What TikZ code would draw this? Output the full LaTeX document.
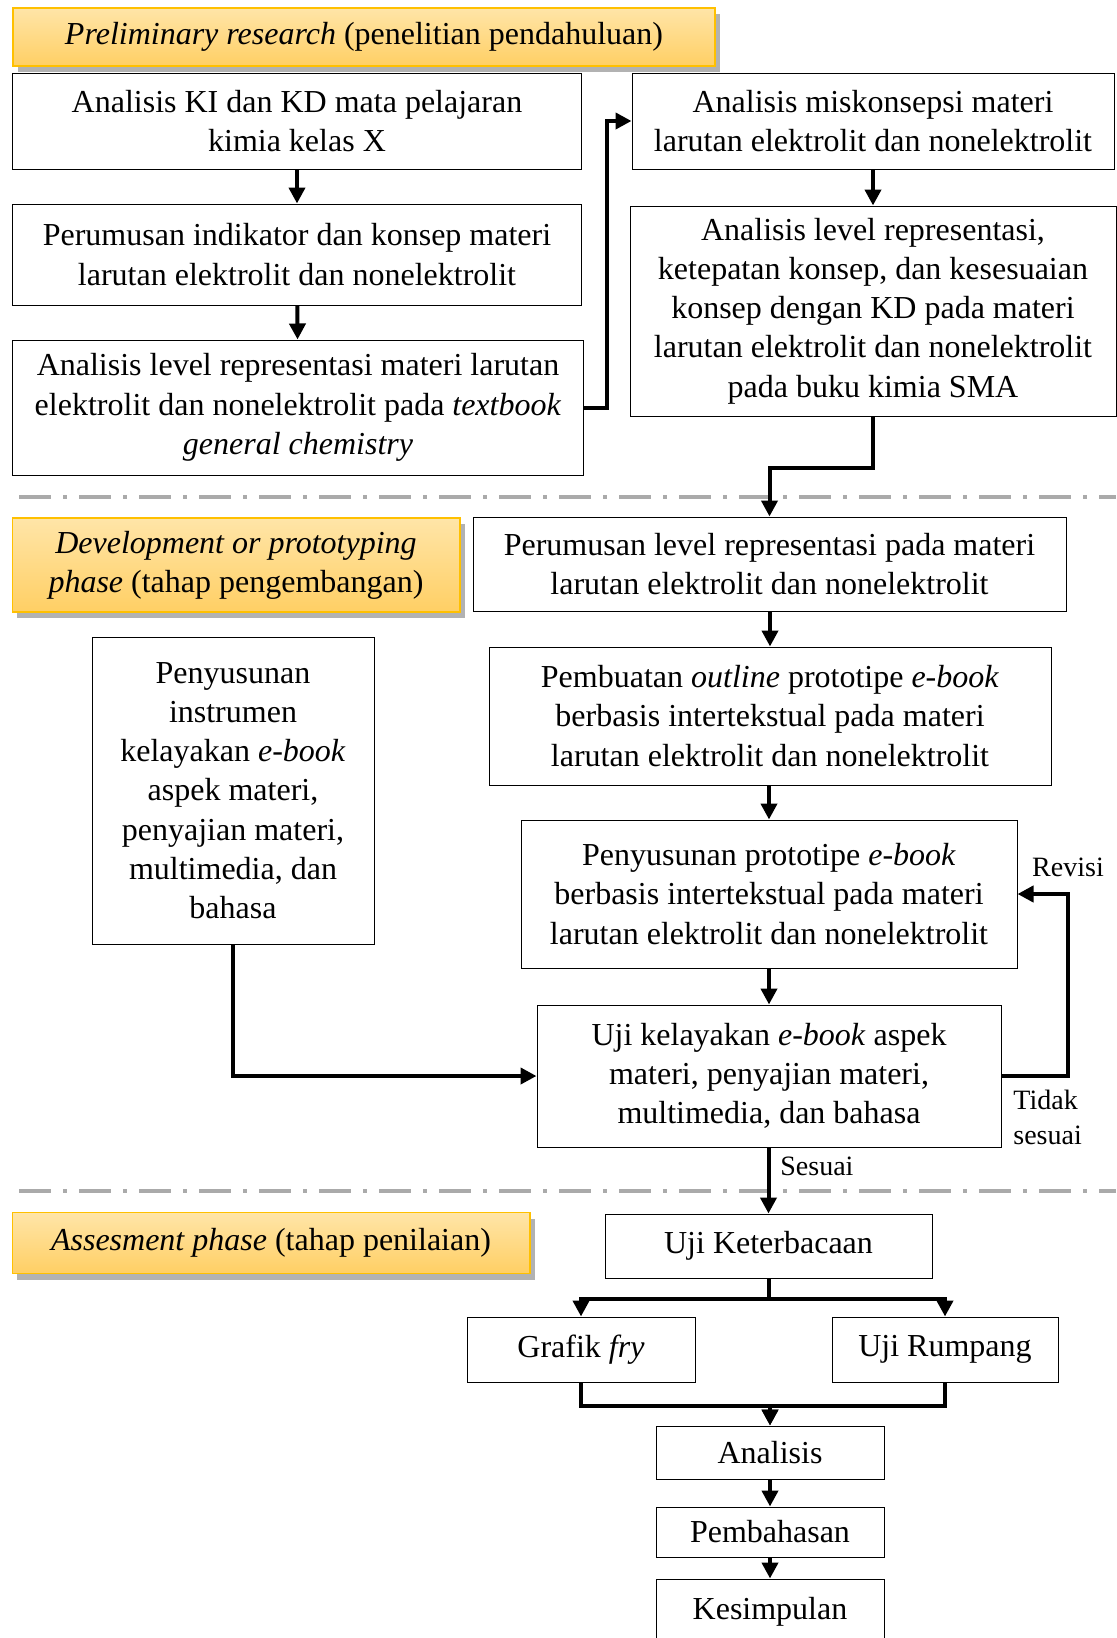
\documentclass[tikz,border=0pt]{standalone}
\usepackage{fontspec}
\setmainfont{Liberation Serif}
\usetikzlibrary{arrows.meta,shadows}
\definecolor{fasetop}{RGB}{255,229,168}
\definecolor{fasebot}{RGB}{255,207,100}
\definecolor{fasegaris}{RGB}{255,192,0}
\definecolor{garisabu}{RGB}{170,170,170}

\begin{document}
\begin{tikzpicture}[x=0.5pt,y=-0.5pt,
  blok/.style={draw, line width=0.5pt, align=center, inner sep=0pt,
    font=\fontsize{16pt}{19.6pt}\selectfont},
  fase/.style={draw=fasegaris, line width=0.7pt, top color=fasetop, bottom color=fasebot,
    drop shadow={shadow xshift=2.5pt, shadow yshift=-3pt, fill=black, opacity=0.3},
    align=center, inner sep=0pt, font=\fontsize{16pt}{19.6pt}\selectfont},
  panah/.style={line width=2pt, -{Triangle[length=8pt,width=8pt]}},
  pemisah/.style={garisabu, line width=2pt, dash pattern=on 16pt off 6pt on 2pt off 6pt},
  ket/.style={inner sep=0pt, align=left, font=\fontsize{14pt}{17.5pt}\selectfont}]

  \useasboundingbox (0,0) rectangle (1117,1638);

  % preliminary research
  \node[fase, minimum width=351pt, minimum height=29pt] (f1) at (364,37)
    {\textit{Preliminary research} (penelitian pendahuluan)};
  \node[blok, minimum width=284.8pt, minimum height=48pt] (a1) at (297,121)
    {Analisis KI dan KD mata pelajaran\\kimia kelas X};
  \node[blok, minimum width=284.8pt, minimum height=50.5pt] (a2) at (297,254.5)
    {Perumusan indikator dan konsep materi\\larutan elektrolit dan nonelektrolit};
  \node[blok, minimum width=285.2pt, minimum height=67.5pt] (a3) at (298,407.5)
    {Analisis level representasi materi larutan\\elektrolit dan nonelektrolit pada \textit{textbook}\\\textit{general chemistry}};
  \node[blok, minimum width=241pt, minimum height=48pt] (b1) at (873,121)
    {Analisis miskonsepsi materi\\larutan elektrolit dan nonelektrolit};
  \node[blok, minimum width=243pt, minimum height=105pt] (b2) at (873,311)
    {Analisis level representasi,\\ketepatan konsep, dan kesesuaian\\konsep dengan KD pada materi\\larutan elektrolit dan nonelektrolit\\pada buku kimia SMA};

  \draw[panah] (a1) -- (a2);
  \draw[panah] (a2) -- (a3);
  \draw[panah] (a3.east) -- ++(23,0) |- (b1.west);
  \draw[panah] (b1) -- (b2);

  \draw[pemisah] (19,497) -- (1116,497);

  % development or prototyping phase
  \node[fase, minimum width=223.8pt, minimum height=47pt] (f2) at (236,565)
    {\textit{Development or prototyping}\\\textit{phase} (tahap pengembangan)};
  \node[blok, minimum width=296.5pt, minimum height=47pt] (c1) at (769.5,564)
    {Perumusan level representasi pada materi\\larutan elektrolit dan nonelektrolit};
  \node[blok, minimum width=281pt, minimum height=69pt] (c2) at (770,716)
    {Pembuatan \textit{outline} prototipe \textit{e-book}\\berbasis intertekstual pada materi\\larutan elektrolit dan nonelektrolit};
  \node[blok, minimum width=248pt, minimum height=74pt] (c3) at (769,894)
    {Penyusunan prototipe \textit{e-book}\\berbasis intertekstual pada materi\\larutan elektrolit dan nonelektrolit};
  \node[blok, minimum width=232pt, minimum height=71pt] (c4) at (769,1076)
    {Uji kelayakan \textit{e-book} aspek\\materi, penyajian materi,\\multimedia, dan bahasa};
  \node[blok, minimum width=141pt, minimum height=153.5pt] (d) at (233,790.5)
    {Penyusunan\\instrumen\\kelayakan \textit{e-book}\\aspek materi,\\penyajian materi,\\multimedia, dan\\bahasa};

  \draw[panah] (b2.south) -- ++(0,51) -| (c1.north);
  \draw[panah] (c1.south -| c2.north) -- (c2.north);
  \draw[panah] (c2.south -| c3.north) -- (c3.north);
  \draw[panah] (c3) -- (c4);
  \draw[panah] (d.south) |- (c4.west);
  \draw[panah] (c4.east) -- ++(66,0) |- (c3.east);
  \node[ket] (revisi) at (1068,867) {Revisi};
  \node[ket, anchor=west] (tidak) at (1013,1117) {Tidak\\sesuai};

  \draw[pemisah] (19,1191) -- (1116,1191);

  % assesment phase
  \node[fase, minimum width=258.8pt, minimum height=30.5pt] (f3) at (271,1243)
    {\textit{Assesment phase} (tahap penilaian)};
  \node[blok, minimum width=163.5pt, minimum height=32pt] (e) at (768.5,1246) {Uji Keterbacaan};
  \node[blok, minimum width=114pt, minimum height=32.5pt] (g1) at (581,1349.5) {Grafik \textit{fry}};
  \node[blok, minimum width=113pt, minimum height=32.5pt] (g2) at (945,1349.5) {Uji Rumpang};
  \node[blok, minimum width=114pt, minimum height=26.5pt] (h1) at (770,1452.5) {Analisis};
  \node[blok, minimum width=114pt, minimum height=25pt] (h2) at (770,1532) {Pembahasan};
  \node[blok, minimum width=114pt, minimum height=33pt] (h3) at (770,1612) {Kesimpulan};

  \draw[panah] (c4.south -| e.north) -- (e.north);
  \node[ket, anchor=west] (sesuai) at (780,1166) {Sesuai};
  \draw[panah] (e.south) -- ++(0,20) -| (g1.north);
  \draw[panah] (e.south) -- ++(0,20) -| (g2.north);
  \draw[panah] (g1.south) -- ++(0,23) -| (h1.north);
  \draw[panah] (g2.south) -- ++(0,23) -| (h1.north);
  \draw[panah] (h1) -- (h2);
  \draw[panah] (h2) -- (h3);
\end{tikzpicture}
\end{document}
